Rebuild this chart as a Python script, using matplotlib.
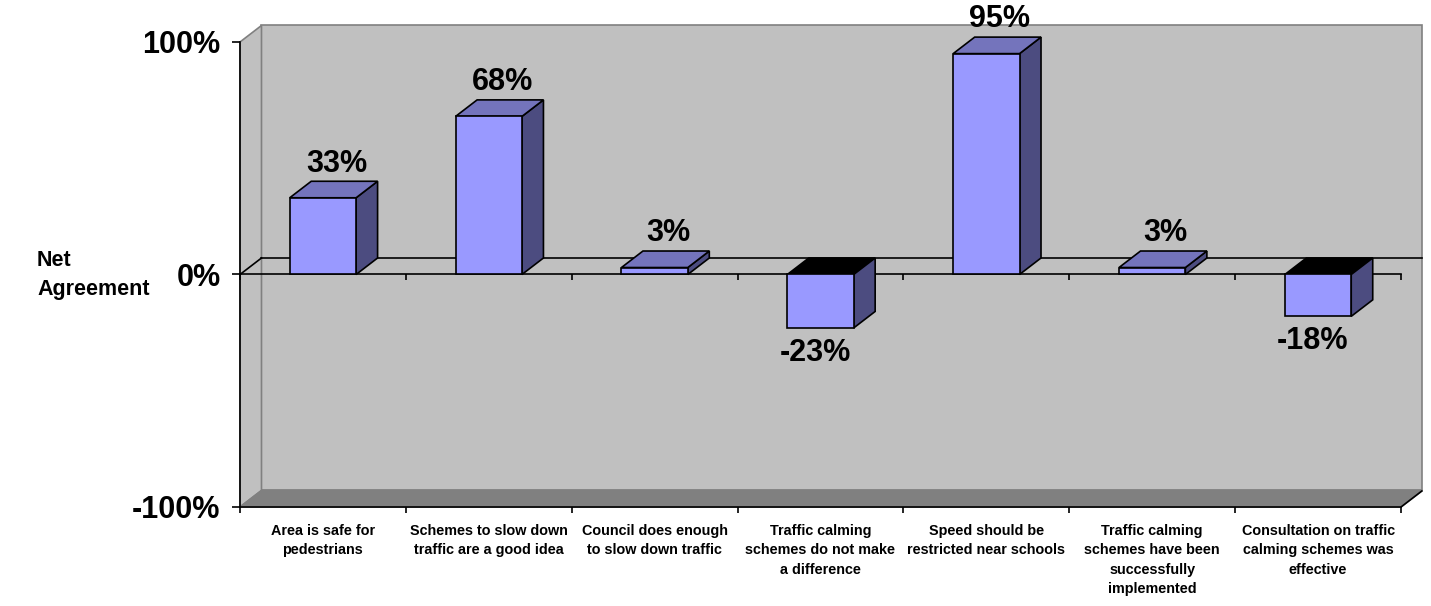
import matplotlib
matplotlib.use("Agg")
import matplotlib.pyplot as plt
import matplotlib.markers as mmarkers
from matplotlib.patches import Polygon
from matplotlib.ticker import FixedLocator, NullFormatter

# ---- data -------------------------------------------------------------
categories = [
    "Area is safe for\npedestrians",
    "Schemes to slow down\ntraffic are a good idea",
    "Council does enough\nto slow down traffic",
    "Traffic calming\nschemes do not make\na difference",
    "Speed should be\nrestricted near schools",
    "Traffic calming\nschemes have been\nsuccessfully\nimplemented",
    "Consultation on traffic\ncalming schemes was\neffective",
]
net_agreement = [0.33, 0.68, 0.03, -0.23, 0.95, 0.03, -0.18]
value_labels = ["33%", "68%", "3%", "-23%", "95%", "3%", "-18%"]
y_ticks = [-1.0, 0.0, 1.0]
y_tick_labels = ["-100%", "0%", "100%"]
y_title = "Net\nAgreement"

# ---- style ------------------------------------------------------------
plt.rcParams["font.family"] = ["Liberation Sans", "DejaVu Sans"]
FRONT = "#9999FF"
TOP = "#7474BC"
SIDE = "#4C4C80"
WALL = "#C0C0C0"
FLOOR = "#808080"
EDGE_GRAY = "#808080"
LW = 1.2

fig = plt.figure(figsize=(14.31, 6.06), dpi=100)
ax = fig.add_axes([0.16771, 0.16337, 0.81132, 0.76733])
n = len(categories)
x0, x1 = -0.5, n - 0.5
ax.set_xlim(x0, x1)
ax.set_ylim(-1, 1)
ax.patch.set_visible(False)

# depth of the pseudo-3D box, in data units
DX, DY = 0.1296, 0.071


def face(pts, fc, ec="black", z=3):
    ax.add_patch(Polygon(pts, closed=True, facecolor=fc, edgecolor=ec,
                         linewidth=LW, clip_on=False, zorder=z,
                         joinstyle="miter"))


# back wall, left wall and floor
face([(x0 + DX, -1 + DY), (x1 + DX, -1 + DY), (x1 + DX, 1 + DY),
      (x0 + DX, 1 + DY)], WALL, EDGE_GRAY, z=0.5)
face([(x0, -1), (x0, 1), (x0 + DX, 1 + DY), (x0 + DX, -1 + DY)],
     WALL, EDGE_GRAY, z=0.6)
face([(x0, -1), (x1, -1), (x1 + DX, -1 + DY), (x0 + DX, -1 + DY)],
     FLOOR, FLOOR, z=0.7)
ax.plot([x1, x1 + DX], [-1, -1 + DY], color="black", lw=LW,
        clip_on=False, zorder=0.8, solid_capstyle="butt")

# zero plane: back line, left diagonal, front line with ticks
ax.plot([x0 + DX, x1 + DX], [DY, DY], color="black", lw=LW,
        clip_on=False, zorder=1)
ax.plot([x0, x0 + DX], [0, DY], color="black", lw=LW,
        clip_on=False, zorder=1)
ax.plot([x0, x1], [0, 0], color="black", lw=LW, clip_on=False, zorder=1)
bounds = [i - 0.5 for i in range(n + 1)]
ax.plot(bounds, [0] * len(bounds), linestyle="none",
        marker=mmarkers.TICKDOWN, markersize=4.5, markeredgewidth=LW,
        color="black", clip_on=False, zorder=1)

# bars
W = 0.2
for i, v in enumerate(net_agreement):
    l, r = i - W, i + W
    if v >= 0:
        face([(r, 0), (r, v), (r + DX, v + DY), (r + DX, DY)], SIDE)
        face([(l, v), (r, v), (r + DX, v + DY), (l + DX, v + DY)], TOP)
        face([(l, 0), (r, 0), (r, v), (l, v)], FRONT)
    else:
        face([(l, 0), (r, 0), (r + DX, DY), (l + DX, DY)], "black")
        face([(r, v), (r + DX, v + DY), (r + DX, DY), (r, 0)], SIDE)
        face([(l, v), (r, v), (r, 0), (l, 0)], FRONT)

# value labels
for i, (v, txt) in enumerate(zip(net_agreement, value_labels)):
    if v >= 0:
        ax.annotate(txt, xy=(i + DX / 2, v + DY), xytext=(2, 7),
                    textcoords="offset points", ha="center", va="baseline",
                    fontsize=22, fontweight="bold", zorder=5,
                    annotation_clip=False)
    else:
        ax.annotate(txt, xy=(i, v), xytext=(-4, -7),
                    textcoords="offset points", ha="center", va="top",
                    fontsize=22, fontweight="bold", zorder=5,
                    annotation_clip=False)

# axes: left and bottom spines only
for s in ("top", "right"):
    ax.spines[s].set_visible(False)
for s in ("left", "bottom"):
    ax.spines[s].set_linewidth(LW)
    ax.spines[s].set_zorder(2)

ax.set_yticks(y_ticks)
ax.set_yticklabels(y_tick_labels, fontsize=22, fontweight="bold")
ax.tick_params(axis="y", direction="out", length=6, width=LW, pad=8)

ax.xaxis.set_major_locator(FixedLocator(bounds))
ax.xaxis.set_major_formatter(NullFormatter())
ax.xaxis.set_minor_locator(FixedLocator(list(range(n))))
ax.set_xticklabels(categories, minor=True, fontsize=10.4,
                   fontweight="bold")
for lab in ax.get_xticklabels(minor=True):
    lab.set_linespacing(1.5)
ax.tick_params(axis="x", which="major", direction="out", length=4.5,
               width=LW)
ax.tick_params(axis="x", which="minor", length=0, pad=12)

fig.text(37 / 1431, 1 - 275 / 606, y_title, ha="left", va="center",
         fontsize=15.5, fontweight="bold", linespacing=1.45)

fig.savefig("out.png", dpi=100)
